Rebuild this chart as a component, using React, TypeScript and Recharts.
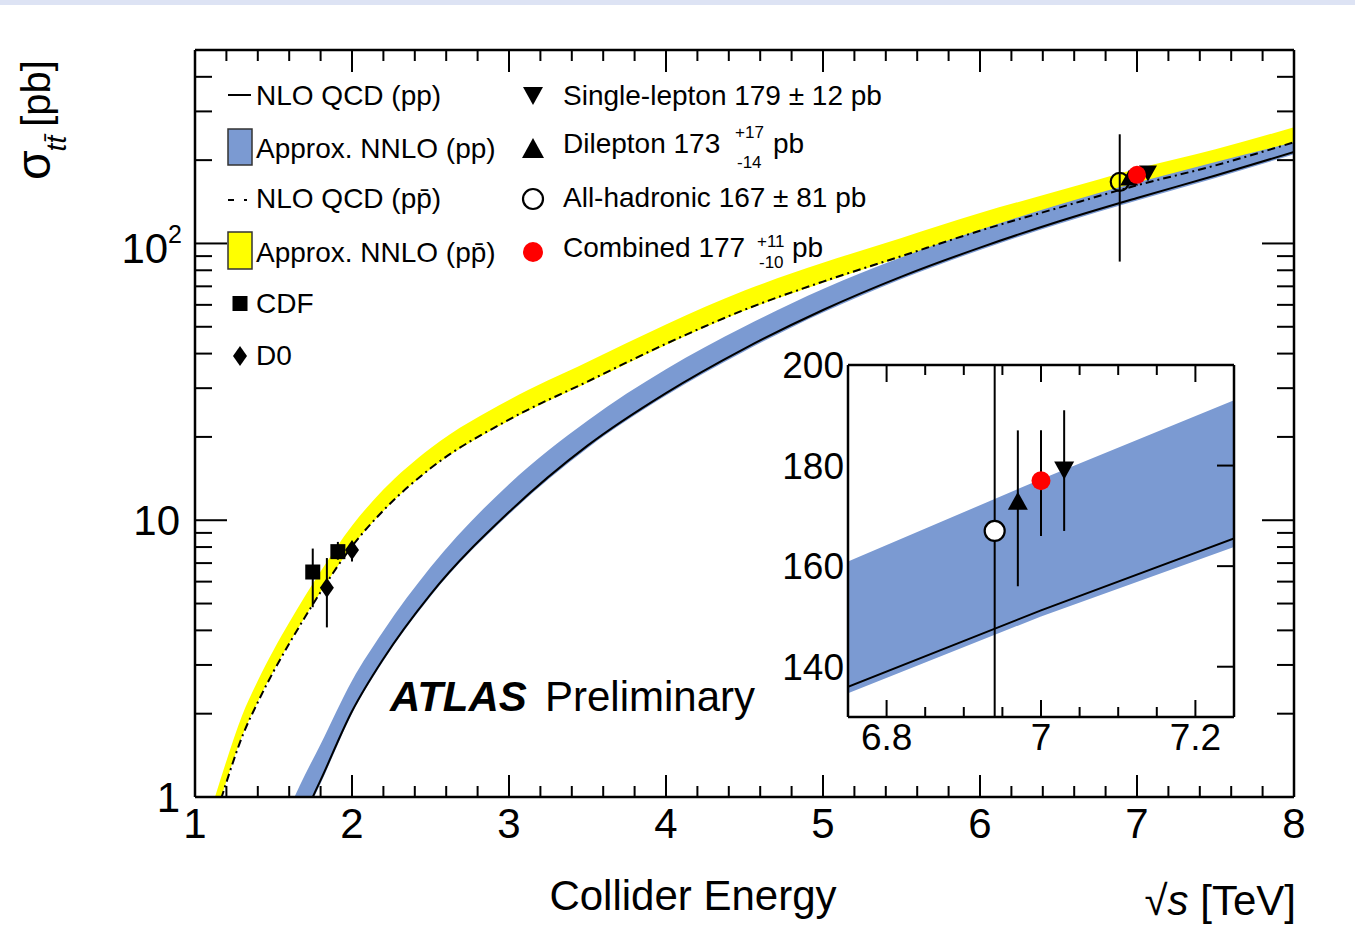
import React from 'react';
import { ComposedChart, Area, Line, Scatter, XAxis, YAxis, ErrorBar } from 'recharts';

const FONT = '"Liberation Sans", Arial, Helvetica, sans-serif';
const BLUE = '#7b9ad2';
const YELLOW = '#ffff00';
const RED = '#ff0000';

// main panel, sqrt(s) in TeV
const energy = [1.1, 1.2, 1.3, 1.4, 1.5, 1.6, 1.7, 1.8, 2.0, 2.2, 2.5, 3.0, 3.5, 4.0, 4.5, 5.0, 5.5, 6.0, 6.5, 7.0, 7.5, 8.0];

// p-pbar (Tevatron) curves, pb
const ppbarNnloHigh = [0.89, 1.35, 1.97, 2.63, 3.39, 4.27, 5.31, 6.53, 9.55, 12.9, 18.2, 27.2, 37.3, 51, 67.6, 85.1, 104.7, 128.8, 154.9, 186.2, 218.8, 263];
const ppbarNnloLow = [0.75, 1.14, 1.66, 2.21, 2.85, 3.59, 4.47, 5.5, 8.04, 10.8, 15.3, 22.9, 31.4, 43, 57.1, 72.1, 89.1, 110.2, 133.4, 161.1, 190.5, 231.7];
const ppbarNlo = [0.74, 1.13, 1.65, 2.2, 2.84, 3.58, 4.46, 5.5, 8.05, 10.85, 15.4, 23.1, 31.7, 43.4, 57.6, 72.8, 90, 111.2, 134.5, 162.2, 191.5, 232];

// p-p (LHC) curves, pb
const ppNnloHigh = [null, null, null, null, null, 0.91, 1.2, 1.55, 2.63, 3.98, 6.76, 13.5, 22.9, 35.1, 50.1, 68.4, 89.1, 112, 138, 166, 197, 232];
const ppNnloLow = [null, null, null, null, null, 0.63, 0.85, 1.12, 2.0, 3.1, 5.3, 10.5, 18.2, 28.2, 40.8, 56.3, 74.4, 94.7, 117.6, 143, 172.5, 210];
const ppNlo = [null, null, null, null, null, 0.65, 0.87, 1.15, 2.04, 3.16, 5.4, 10.7, 18.6, 28.8, 41.7, 57.5, 75.9, 96.6, 120, 146, 176, 214];

// Tevatron measurements
const cdfPoints = [
  { x: 1.75, y: 6.5, err: [1.65, 1.4] },
  { x: 1.91, y: 7.7, err: [0.5, 0.65] },
];
const d0Points = [
  { x: 1.84, y: 5.7, err: [1.6, 1.6] },
  { x: 2.0, y: 7.8, err: [0.7, 0.55] },
];

// ATLAS 7 TeV, shown slightly shifted in energy
const mainAllHad = [{ x: 6.89, y: 167, err: [81, 81] }];
const mainDilep = [{ x: 6.95, y: 173 }];
const mainComb = [{ x: 7.0, y: 177 }];
const mainSingle = [{ x: 7.07, y: 179 }];

// inset
const insetEnergy = [6.75, 7.0, 7.25];
const insetNnloHigh = [160.9, 177.3, 193];
const insetNnloLow = [134.7, 150, 163.8];
const insetNlo = [136, 151.2, 165.5];

const insetAllHad = [{ x: 6.94, y: 167, err: [81, 81] }];
const insetDilep = [{ x: 6.97, y: 173, err: [17, 14] }];
const insetComb = [{ x: 7.0, y: 177, err: [11, 10] }];
const insetSingle = [{ x: 7.03, y: 179, err: [12, 12] }];

// ticks
const xTicksMain = [1, 1.2, 1.4, 1.6, 1.8, 2, 2.2, 2.4, 2.6, 2.8, 3, 3.2, 3.4, 3.6, 3.8, 4, 4.2, 4.4, 4.6, 4.8, 5, 5.2, 5.4, 5.6, 5.8, 6, 6.2, 6.4, 6.6, 6.8, 7, 7.2, 7.4, 7.6, 7.8, 8];
const yTicksMain = [1, 2, 3, 4, 5, 6, 7, 8, 9, 10, 20, 30, 40, 50, 60, 70, 80, 90, 100, 200, 300, 400];
const xTicksInset = [6.8, 6.85, 6.9, 6.95, 7, 7.05, 7.1, 7.15, 7.2];
const xLabelsInset = [6.8, 7, 7.2];
const yTicksInset = [140, 160, 180, 200];

const mainData = energy.map((x, i) => ({
  x,
  ppbarBand: [ppbarNnloLow[i], ppbarNnloHigh[i]],
  ppbarNlo: ppbarNlo[i],
  ppBand: ppNnloHigh[i] == null ? null : [ppNnloLow[i], ppNnloHigh[i]],
  ppNlo: ppNlo[i],
}));

const insetData = insetEnergy.map((x, i) => ({
  x,
  band: [insetNnloLow[i], insetNnloHigh[i]],
  nlo: insetNlo[i],
}));

const isInt = (v: number) => Math.abs(v - Math.round(v)) < 1e-6;
const isDecade = (v: number) => v === 1 || v === 10 || v === 100;

const BottomTick = (p: any) => {
  const v = p.payload.value;
  const major = isInt(v);
  return (
    <g>
      <line x1={p.x} x2={p.x} y1={p.y} y2={p.y - (major ? 22 : 11)} stroke="#000" strokeWidth={2} />
      {major && (
        <text x={p.x} y={p.y + 41} textAnchor="middle" fontSize={42} fontFamily={FONT} fill="#000">
          {String(v)}
        </text>
      )}
    </g>
  );
};

const TopTick = (p: any) => {
  const major = isInt(p.payload.value);
  return <line x1={p.x} x2={p.x} y1={p.y} y2={p.y + (major ? 22 : 11)} stroke="#000" strokeWidth={2} />;
};

const LeftTick = (p: any) => {
  const v = p.payload.value;
  const major = isDecade(v);
  let label = null;
  if (v === 100) {
    label = (
      <text x={p.x - 13} y={p.y + 20} textAnchor="end" fontSize={42} fontFamily={FONT} fill="#000">
        10<tspan fontSize={25} dy={-20}>2</tspan>
      </text>
    );
  } else if (v === 10 || v === 1) {
    label = (
      <text x={p.x - 15} y={p.y + 15} textAnchor="end" fontSize={42} fontFamily={FONT} fill="#000">
        {String(v)}
      </text>
    );
  }
  return (
    <g>
      <line x1={p.x} x2={p.x + (major ? 32 : 17)} y1={p.y} y2={p.y} stroke="#000" strokeWidth={2} />
      {label}
    </g>
  );
};

const RightTick = (p: any) => {
  const major = isDecade(p.payload.value);
  return <line x1={p.x} x2={p.x - (major ? 32 : 17)} y1={p.y} y2={p.y} stroke="#000" strokeWidth={2} />;
};

const InsetBottomTick = (p: any) => {
  const v = p.payload.value;
  const major = xLabelsInset.some((m) => Math.abs(m - v) < 1e-6);
  return (
    <g>
      <line x1={p.x} x2={p.x} y1={p.y} y2={p.y - (major ? 17 : 10)} stroke="#000" strokeWidth={2} />
      {major && (
        <text x={p.x} y={p.y + 33} textAnchor="middle" fontSize={37} fontFamily={FONT} fill="#000">
          {String(v)}
        </text>
      )}
    </g>
  );
};

const InsetTopTick = (p: any) => {
  const major = xLabelsInset.some((m) => Math.abs(m - p.payload.value) < 1e-6);
  return <line x1={p.x} x2={p.x} y1={p.y} y2={p.y + (major ? 17 : 10)} stroke="#000" strokeWidth={2} />;
};

const InsetLeftTick = (p: any) => (
  <text x={p.x - 4} y={p.y + 13} textAnchor="end" fontSize={37} fontFamily={FONT} fill="#000">
    {String(p.payload.value)}
  </text>
);

const InsetRightTick = (p: any) => (
  <line x1={p.x} x2={p.x - 17} y1={p.y} y2={p.y} stroke="#000" strokeWidth={2} />
);

// marker shapes
const triDown = (cx: number, cy: number, w: number, h: number) =>
  `M${cx - w / 2},${cy - h / 2}L${cx + w / 2},${cy - h / 2}L${cx},${cy + h / 2}Z`;
const triUp = (cx: number, cy: number, w: number, h: number) =>
  `M${cx - w / 2},${cy + h / 2}L${cx + w / 2},${cy + h / 2}L${cx},${cy - h / 2}Z`;
const diamond = (cx: number, cy: number, w: number, h: number) =>
  `M${cx},${cy - h / 2}L${cx + w / 2},${cy}L${cx},${cy + h / 2}L${cx - w / 2},${cy}Z`;

const SquareShape = (p: any) => <rect x={p.cx - 7.5} y={p.cy - 7.5} width={15} height={15} fill="#000" />;
const DiamondShape = (p: any) => <path d={diamond(p.cx, p.cy, 14, 20)} fill="#000" />;
const OpenCircle = (r: number, fill: string) => (p: any) => (
  <circle cx={p.cx} cy={p.cy} r={r} fill={fill} stroke="#000" strokeWidth={2.2} />
);
const RedDot = (r: number) => (p: any) => <circle cx={p.cx} cy={p.cy} r={r} fill={RED} />;
const UpShape = (w: number, h: number) => (p: any) => <path d={triUp(p.cx, p.cy, w, h)} fill="#000" />;
const DownShape = (w: number, h: number) => (p: any) => <path d={triDown(p.cx, p.cy, w, h)} fill="#000" />;

const Legend = () => (
  <g fontFamily={FONT} fill="#000">
    <line x1={228} x2={251} y1={95} y2={95} stroke="#000" strokeWidth={2} />
    <text x={256} y={105} fontSize={28}>NLO QCD (pp)</text>
    <rect x={228} y={129} width={24} height={36} fill={BLUE} stroke="#333" strokeWidth={1.5} />
    <text x={256} y={158} fontSize={28}>Approx. NNLO (pp)</text>
    <line x1={228} x2={250} y1={200} y2={200} stroke="#000" strokeWidth={2} strokeDasharray="6 10 3 10" />
    <text x={256} y={208} fontSize={28}>NLO QCD (pp̄)</text>
    <rect x={228} y={232} width={24} height={37} fill={YELLOW} stroke="#333" strokeWidth={1.5} />
    <text x={256} y={262} fontSize={28}>Approx. NNLO (pp̄)</text>
    <rect x={232.5} y={296} width={15} height={15} fill="#000" />
    <text x={256} y={313} fontSize={28}>CDF</text>
    <path d={diamond(240, 356, 14, 20)} fill="#000" />
    <text x={256} y={365} fontSize={28}>D0</text>

    <path d={triDown(533, 96, 20, 18)} fill="#000" />
    <text x={563} y={105} fontSize={28}>Single-lepton 179 ± 12 pb</text>
    <path d={triUp(533, 148, 22, 20)} fill="#000" />
    <text x={563} y={153} fontSize={28}>Dilepton 173</text>
    <text x={735} y={138} fontSize={17}>+17</text>
    <text x={737} y={168} fontSize={17}>-14</text>
    <text x={773} y={153} fontSize={28}>pb</text>
    <circle cx={533} cy={199} r={10} fill="none" stroke="#000" strokeWidth={2.2} />
    <text x={563} y={207} fontSize={28}>All-hadronic 167 ± 81 pb</text>
    <circle cx={533} cy={252} r={10} fill={RED} />
    <text x={563} y={257} fontSize={28}>Combined 177</text>
    <text x={757} y={247} fontSize={17}>+11</text>
    <text x={759} y={268} fontSize={17}>-10</text>
    <text x={792} y={257} fontSize={28}>pb</text>
  </g>
);

const axisLine = { stroke: '#000', strokeWidth: 2.5 };

export default function App() {
  return (
    <div style={{ position: 'absolute', left: 0, top: 0, width: 1355, height: 944, background: '#fff', overflow: 'hidden' }}>
      <style>{'.inset-chart .recharts-errorBars, .inset-chart .recharts-errorBar { clip-path: url(#insetPlotClip); }'}</style>
      <svg width={0} height={0} style={{ position: 'absolute' }}>
        <defs>
          <clipPath id="insetPlotClip" clipPathUnits="userSpaceOnUse">
            <rect x={88} y={35} width={386} height={352} />
          </clipPath>
        </defs>
      </svg>
      <div style={{ position: 'absolute', left: 0, top: 0, width: 1355, height: 5, background: '#dde3f4' }} />

      <div style={{ position: 'absolute', left: 0, top: 0 }}>
        <ComposedChart width={1355} height={944} data={mainData} margin={{ top: 40, right: 41, bottom: 87, left: 135 }}>
          <XAxis dataKey="x" type="number" domain={[1, 8]} allowDataOverflow ticks={xTicksMain} interval={0}
            height={60} tickSize={0} tickMargin={0} tickLine={false} tick={BottomTick} axisLine={axisLine} />
          <XAxis xAxisId="top" orientation="top" dataKey="x" type="number" domain={[1, 8]} allowDataOverflow
            ticks={xTicksMain} interval={0} height={10} tickSize={0} tickMargin={0} tickLine={false} tick={TopTick}
            axisLine={axisLine} />
          <YAxis scale="log" type="number" domain={[1, 500]} allowDataOverflow ticks={yTicksMain} interval={0}
            width={60} tickSize={0} tickMargin={0} tickLine={false} tick={LeftTick} axisLine={axisLine} />
          <YAxis yAxisId="right" orientation="right" scale="log" type="number" domain={[1, 500]} allowDataOverflow
            ticks={yTicksMain} interval={0} width={20} tickSize={0} tickMargin={0} tickLine={false} tick={RightTick}
            axisLine={axisLine} />

          <Area dataKey="ppbarBand" type="monotone" fill={YELLOW} fillOpacity={1} stroke="none" isAnimationActive={false} />
          <Area dataKey="ppBand" type="monotone" fill={BLUE} fillOpacity={1} stroke="none" isAnimationActive={false} />
          <Line dataKey="ppbarNlo" type="monotone" stroke="#000" strokeWidth={2} strokeDasharray="8 4 2 4" dot={false} isAnimationActive={false} />
          <Line dataKey="ppNlo" type="monotone" stroke="#000" strokeWidth={2} dot={false} isAnimationActive={false} />

          <Scatter data={cdfPoints} dataKey="y" shape={SquareShape} isAnimationActive={false}>
            <ErrorBar dataKey="err" direction="y" width={0} stroke="#000" strokeWidth={2} />
          </Scatter>
          <Scatter data={d0Points} dataKey="y" shape={DiamondShape} isAnimationActive={false}>
            <ErrorBar dataKey="err" direction="y" width={0} stroke="#000" strokeWidth={2} />
          </Scatter>
          <Scatter data={mainAllHad} dataKey="y" shape={OpenCircle(9, 'none')} isAnimationActive={false}>
            <ErrorBar dataKey="err" direction="y" width={0} stroke="#000" strokeWidth={2} />
          </Scatter>
          <Scatter data={mainDilep} dataKey="y" shape={UpShape(18, 16)} isAnimationActive={false} />
          <Scatter data={mainSingle} dataKey="y" shape={DownShape(18, 16)} isAnimationActive={false} />
          <Scatter data={mainComb} dataKey="y" shape={RedDot(9)} isAnimationActive={false} />
        </ComposedChart>
      </div>

      <svg width={1355} height={944} style={{ position: 'absolute', left: 0, top: 0, pointerEvents: 'none' }}>
        <Legend />
        <text transform="translate(50,180) rotate(-90)" fontFamily={FONT} fill="#000">
          <tspan fontSize={48}>σ</tspan>
          <tspan fontSize={28} fontStyle="italic" dy={16} dx={-1}>tt̄</tspan>
          <tspan fontSize={40} dy={-16} dx={9}>[pb]</tspan>
        </text>
        <text x={693} y={910} textAnchor="middle" fontSize={42} fontFamily={FONT} fill="#000">Collider Energy</text>
        <text x={1296} y={915} textAnchor="end" fontSize={42} fontFamily={FONT} fill="#000">
          √<tspan fontStyle="italic">s</tspan> [TeV]
        </text>
        <text x={390} y={711} fontSize={42} fontWeight="bold" fontStyle="italic" fontFamily={FONT} fill="#000">ATLAS</text>
        <text x={545} y={711} fontSize={42} fontFamily={FONT} fill="#000">Preliminary</text>
      </svg>

      <div className="inset-chart" style={{ position: 'absolute', left: 760, top: 330 }}>
        <ComposedChart width={500} height={440} data={insetData} margin={{ top: 25, right: 16, bottom: 13, left: 28 }}>
          <XAxis dataKey="x" type="number" domain={[6.75, 7.25]} allowDataOverflow ticks={xTicksInset} interval={0}
            height={40} tickSize={0} tickMargin={0} tickLine={false} tick={InsetBottomTick} axisLine={axisLine} />
          <XAxis xAxisId="top" orientation="top" dataKey="x" type="number" domain={[6.75, 7.25]} allowDataOverflow
            ticks={xTicksInset} interval={0} height={10} tickSize={0} tickMargin={0} tickLine={false}
            tick={InsetTopTick} axisLine={axisLine} />
          <YAxis type="number" domain={[130, 200]} allowDataOverflow ticks={yTicksInset} interval={0} width={60}
            tickSize={0} tickMargin={0} tickLine={false} tick={InsetLeftTick} axisLine={axisLine} />
          <YAxis yAxisId="right" orientation="right" type="number" domain={[130, 200]} allowDataOverflow
            ticks={yTicksInset} interval={0} width={10} tickSize={0} tickMargin={0} tickLine={false}
            tick={InsetRightTick} axisLine={axisLine} />
          <Area dataKey="band" type="linear" fill={BLUE} fillOpacity={1} stroke="none" isAnimationActive={false} />
          <Line dataKey="nlo" type="linear" stroke="#000" strokeWidth={2} dot={false} isAnimationActive={false} />
          <Scatter data={insetAllHad} dataKey="y" shape={OpenCircle(10, '#fff')} isAnimationActive={false}>
            <ErrorBar dataKey="err" direction="y" width={0} stroke="#000" strokeWidth={2} />
          </Scatter>
          <Scatter data={insetDilep} dataKey="y" shape={UpShape(20, 18)} isAnimationActive={false}>
            <ErrorBar dataKey="err" direction="y" width={0} stroke="#000" strokeWidth={2} />
          </Scatter>
          <Scatter data={insetComb} dataKey="y" shape={RedDot(9.5)} isAnimationActive={false}>
            <ErrorBar dataKey="err" direction="y" width={0} stroke="#000" strokeWidth={2} />
          </Scatter>
          <Scatter data={insetSingle} dataKey="y" shape={DownShape(20, 18)} isAnimationActive={false}>
            <ErrorBar dataKey="err" direction="y" width={0} stroke="#000" strokeWidth={2} />
          </Scatter>
        </ComposedChart>
      </div>
    </div>
  );
}
